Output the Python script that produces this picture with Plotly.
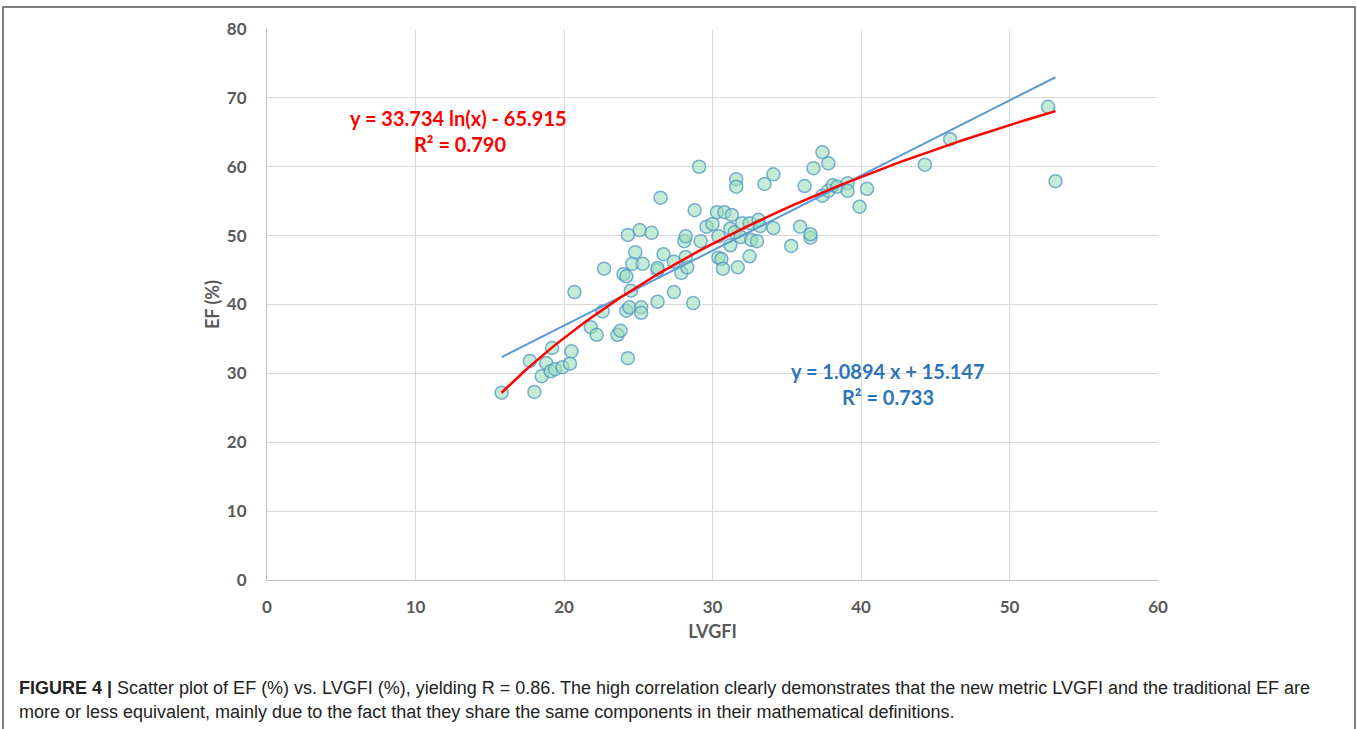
import numpy as np
import plotly.graph_objects as go

# LVGFI (x) and EF (y) values
lvgfi = [15.8, 18.0, 17.7, 18.5, 18.8, 19.1, 19.4, 19.2, 19.9, 20.4, 20.5, 20.7,
         21.8, 22.2, 22.6, 22.7, 23.6, 23.8, 24.0, 24.2, 24.2, 24.3, 24.3, 24.4,
         24.5, 24.6, 24.8, 25.1, 25.2, 25.2, 25.3, 25.9, 26.3, 26.3, 26.3, 26.5,
         26.7, 27.4, 27.4, 27.9, 28.1, 28.2, 28.3, 28.2, 28.7, 28.8, 29.1, 29.2,
         29.6, 30.0, 30.3, 30.4, 30.4, 30.6, 30.7, 30.8, 31.2, 31.2, 31.3, 31.5,
         31.6, 31.6, 31.7, 31.9, 32.0, 32.5, 32.5, 32.6, 33.0, 33.1, 33.2, 33.5,
         34.1, 34.1, 35.3, 35.9, 36.2, 36.6, 36.6, 36.8, 37.4, 37.4, 37.8, 37.8,
         38.1, 38.4, 39.1, 39.1, 39.9, 40.4, 44.3, 46.0, 52.6, 53.1]
ef = [27.2, 27.3, 31.8, 29.6, 31.5, 30.3, 30.6, 33.7, 30.9, 31.4, 33.2, 41.8,
      36.7, 35.6, 39.0, 45.2, 35.6, 36.2, 44.4, 44.1, 39.1, 50.1, 32.2, 39.6,
      42.0, 45.9, 47.6, 50.8, 39.6, 38.8, 45.9, 50.4, 45.0, 45.3, 40.4, 55.5,
      47.3, 46.2, 41.8, 44.6, 49.2, 49.9, 45.4, 46.9, 40.2, 53.7, 60.0, 49.2,
      51.3, 51.7, 53.4, 49.9, 46.8, 46.6, 45.2, 53.4, 48.6, 51.0, 53.0, 50.5,
      58.2, 57.1, 45.4, 49.8, 51.8, 47.0, 51.8, 49.4, 49.2, 52.3, 51.4, 57.5,
      58.9, 51.1, 48.5, 51.3, 57.2, 49.7, 50.2, 59.8, 62.1, 55.8, 60.5, 56.5,
      57.3, 57.1, 57.6, 56.5, 54.2, 56.8, 60.3, 64.0, 68.7, 57.9]

# Trend-line coefficients shown on the chart
lin_slope, lin_icpt = 1.0894, 15.147
log_a, log_b = 33.734, -65.915

x_tick_vals = [0, 10, 20, 30, 40, 50, 60]
y_tick_vals = [0, 10, 20, 30, 40, 50, 60, 70, 80]

xmin, xmax = min(lvgfi), max(lvgfi)
xl = np.array([xmin, xmax])
xc = np.linspace(xmin, xmax, 120)

fig = go.Figure()
fig.add_trace(go.Scatter(
    x=lvgfi, y=ef, mode="markers",
    marker=dict(size=13, color="rgba(155,222,185,0.6)",
                line=dict(color="rgba(80,150,195,0.75)", width=1.5)),
    showlegend=False))
fig.add_trace(go.Scatter(x=xl, y=lin_slope * xl + lin_icpt, mode="lines",
                         line=dict(color="#5b9bd5", width=2), showlegend=False))
fig.add_trace(go.Scatter(x=xc, y=log_a * np.log(xc) + log_b, mode="lines",
                         line=dict(color="#ff0000", width=2.5), showlegend=False))

FAM = "Lato, Open Sans, sans-serif"
tickfont = dict(family=FAM, size=17, color="#595959", weight="bold")
titlefont = dict(family=FAM, size=18, color="#595959", weight="bold")
fig.update_xaxes(range=[0, 60], tickvals=x_tick_vals, showgrid=True,
                 gridcolor="#d9d9d9", gridwidth=1, zeroline=False,
                 showline=True, linecolor="#bfbfbf", linewidth=1,
                 ticks="outside", ticklen=12, tickcolor="rgba(0,0,0,0)",
                 tickfont=tickfont,
                 title=dict(text="LVGFI", font=titlefont, standoff=8))
fig.update_yaxes(range=[0, 80], tickvals=y_tick_vals, showgrid=True,
                 gridcolor="#d9d9d9", gridwidth=1, zeroline=False,
                 showline=True, linecolor="#bfbfbf", linewidth=1,
                 ticks="outside", ticklen=16, tickcolor="rgba(0,0,0,0)",
                 tickfont=tickfont,
                 title=dict(text="EF (%)", font=titlefont, standoff=2))

annfont_r = dict(family=FAM, size=20, color="#ff0000", weight="bold")
annfont_b = dict(family=FAM, size=20, color="#2e75b6", weight="bold")
fig.add_annotation(x=12.9, y=67.1, text="y = 33.734 ln(x) - 65.915",
                   showarrow=False, font=annfont_r)
fig.add_annotation(x=13.0, y=63.3, text="R² = 0.790",
                   showarrow=False, font=annfont_r)
fig.add_annotation(x=41.8, y=30.3, text="y = 1.0894 x + 15.147",
                   showarrow=False, font=annfont_b)
fig.add_annotation(x=41.8, y=26.6, text="R² = 0.733",
                   showarrow=False, font=annfont_b)

capfont = dict(family="Liberation Sans, Arial, sans-serif", size=18, color="#222222")
fig.add_annotation(xref="paper", yref="paper", x=(17 - 267) / 891, y=(729 - 688 - 149) / 551,
                   xanchor="left", yanchor="middle", showarrow=False, align="left",
                   text="<b>FIGURE 4 |</b> Scatter plot of EF (%) vs. LVGFI (%), yielding R = 0.86. "
                        "The high correlation clearly demonstrates that the new metric LVGFI and the traditional EF are",
                   font=capfont)
fig.add_annotation(xref="paper", yref="paper", x=(17 - 267) / 891, y=(729 - 712 - 149) / 551,
                   xanchor="left", yanchor="middle", showarrow=False, align="left",
                   text="more or less equivalent, mainly due to the fact that they share the same components in their mathematical definitions.",
                   font=capfont)

# outer frame
fig.add_shape(type="rect", xref="paper", yref="paper",
              x0=(3 - 267) / 891, x1=(1355 - 267) / 891,
              y0=(729 - 740 - 149) / 551, y1=(729 - 7 - 149) / 551,
              line=dict(color="#555555", width=1.5), fillcolor="rgba(0,0,0,0)", layer="below")

fig.update_layout(width=1358, height=729, plot_bgcolor="white", paper_bgcolor="white",
                  margin=dict(l=267, r=200, t=29, b=149), showlegend=False)

fig.write_html("out.html")
